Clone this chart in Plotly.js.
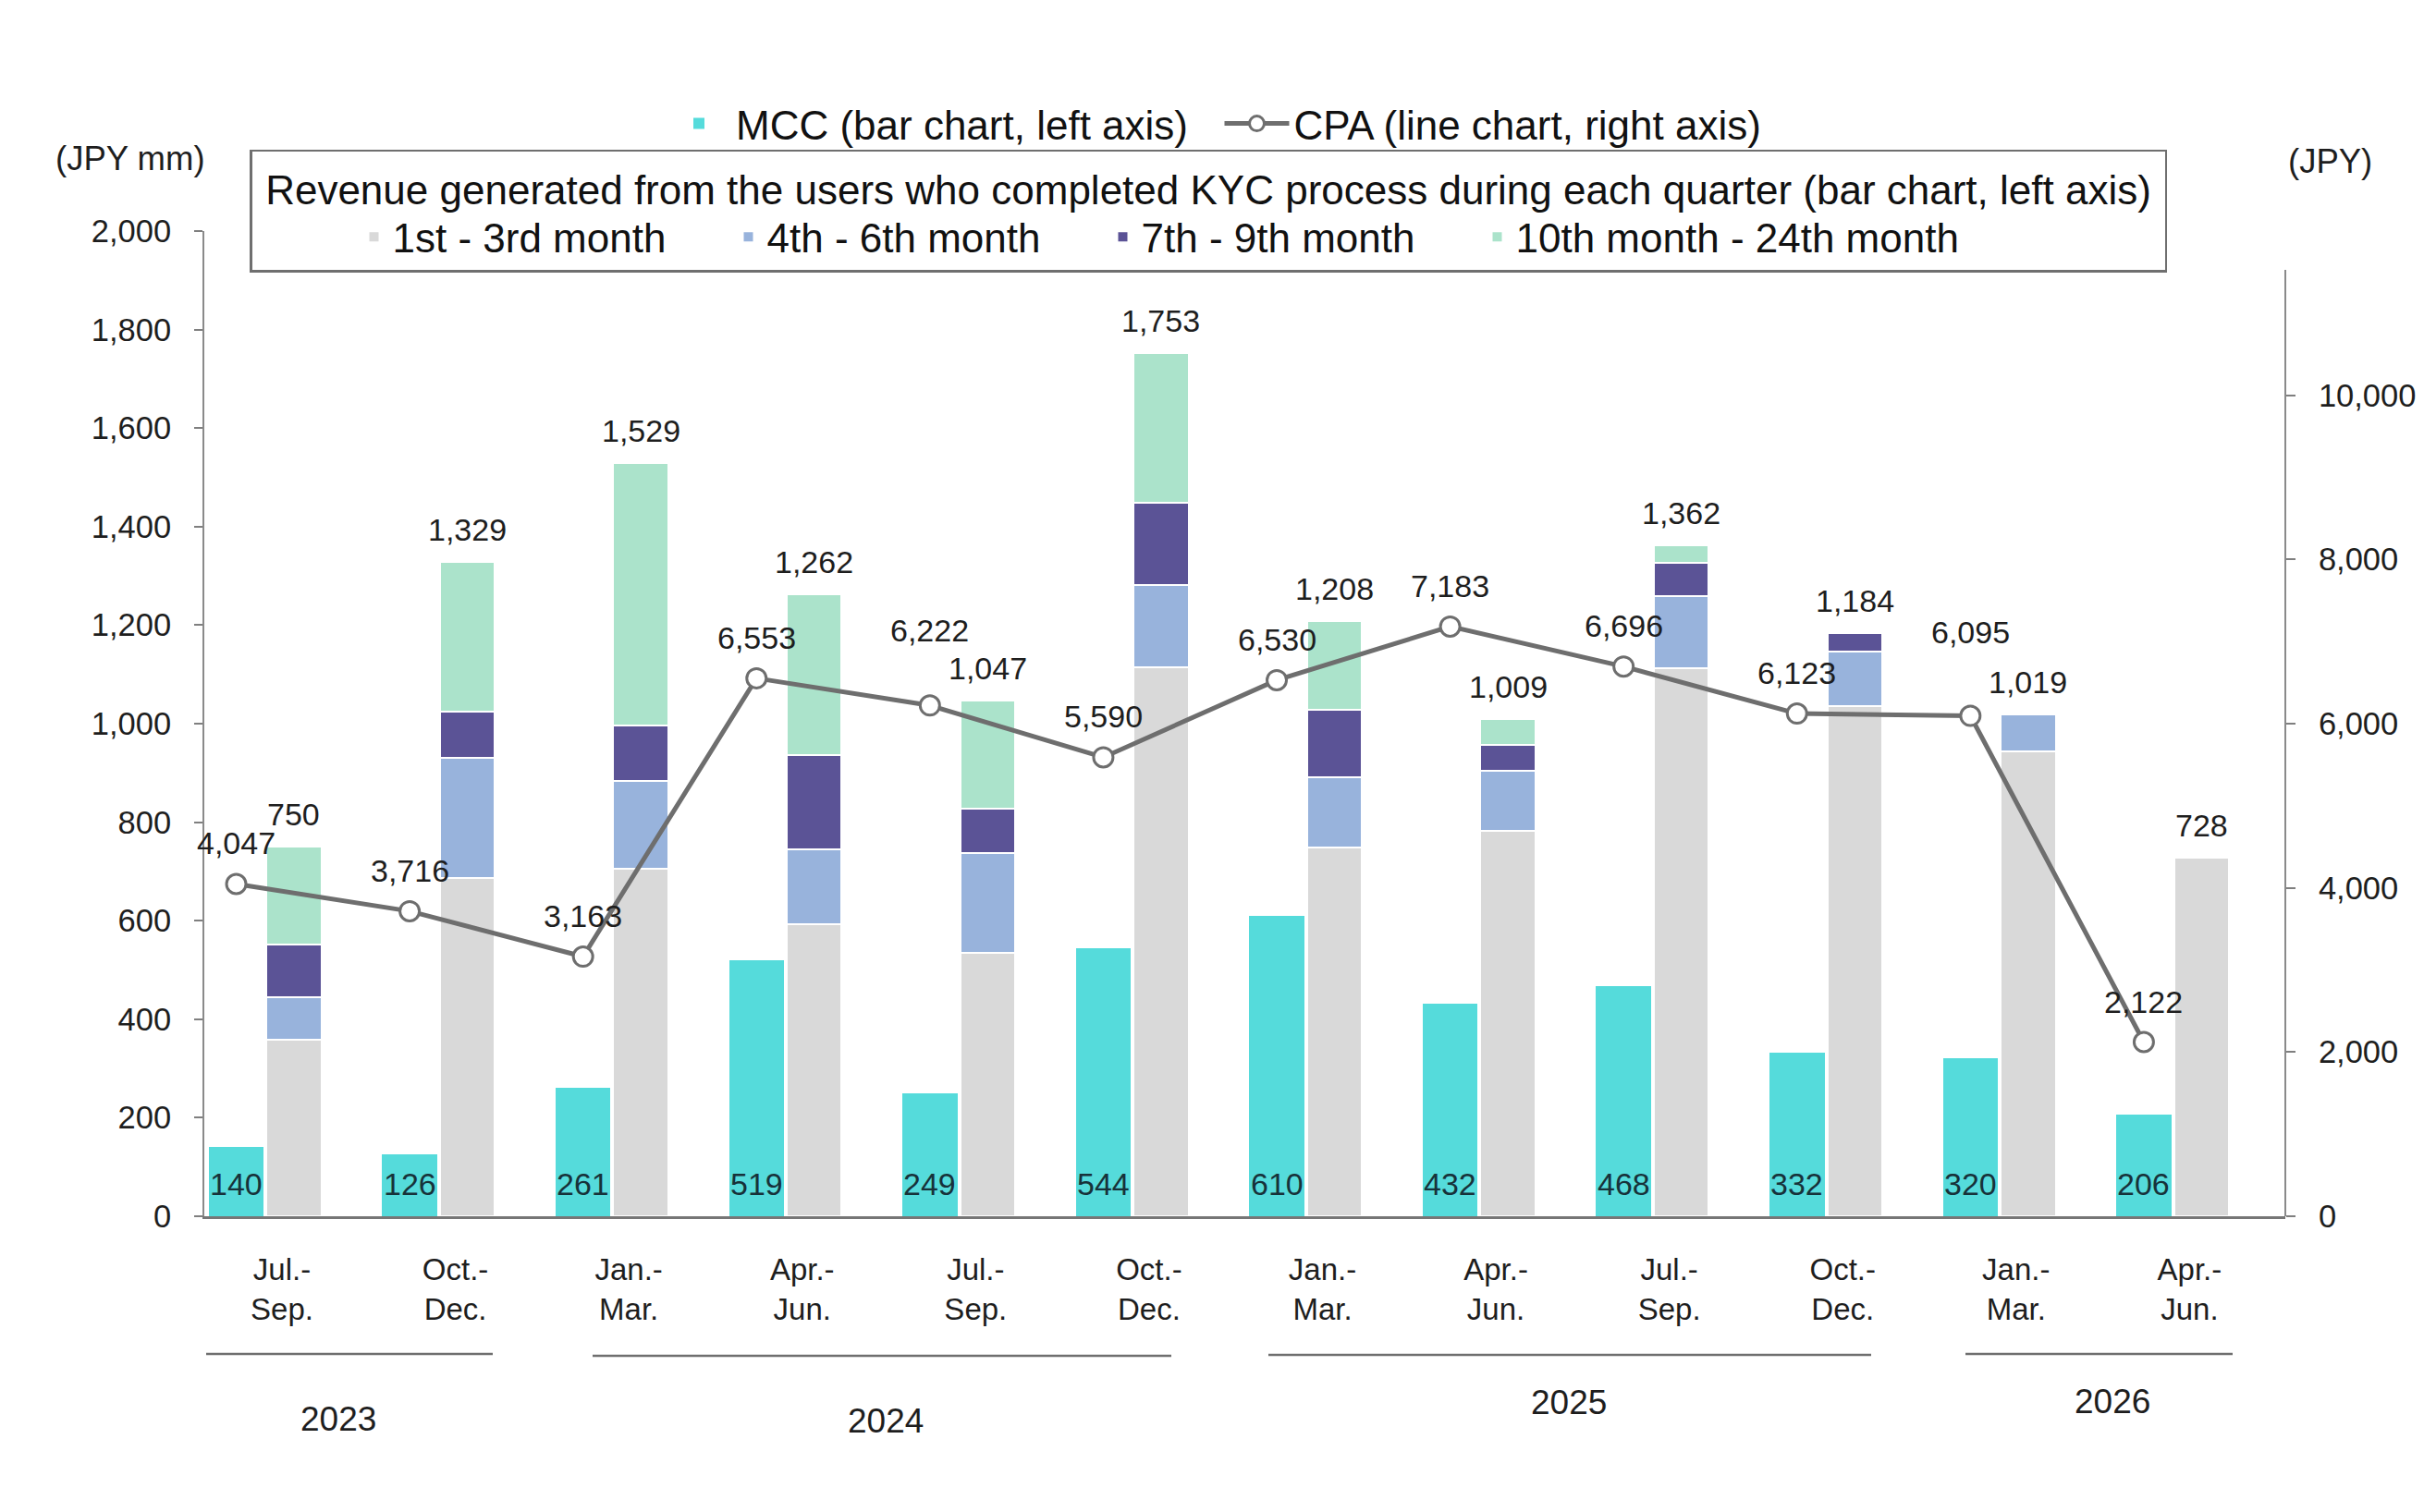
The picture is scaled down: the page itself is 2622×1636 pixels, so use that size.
<!DOCTYPE html>
<html><head><meta charset="utf-8">
<script src="https://cdn.plot.ly/plotly-3.0.1.min.js"></script>
<style>html,body{margin:0;padding:0;background:#fff}#chart{width:2622px;height:1636px}</style>
</head><body><div id="chart"></div>
<script>
// ---------------- data ----------------
const quarters = ['Jul.-Sep.','Oct.-Dec.','Jan.-Mar.','Apr.-Jun.','Jul.-Sep.','Oct.-Dec.','Jan.-Mar.','Apr.-Jun.','Jul.-Sep.','Oct.-Dec.','Jan.-Mar.','Apr.-Jun.'];
const years = ['2023','2023','2024','2024','2024','2024','2025','2025','2025','2025','2026','2026'];
const mcc = [140,126,261,519,249,544,610,432,468,332,320,206];
const month1to3 = [359,687,705,592,535,1115,749,783,1112,1036,943,728];
const month4to6 = [86,243,178,152,203,167,143,122,146,111,76,null];
const month7to9 = [106,95,114,193,90,166,137,51,69,37,null,null];
const month10to24 = [199,304,532,325,219,305,179,53,35,null,null,null];
const totals = [750,1329,1529,1262,1047,1753,1208,1009,1362,1184,1019,728];
const cpa = [4047,3716,3163,6553,6222,5590,6530,7183,6696,6123,6095,2122];
const yearGroups = ['2023','2024','2025','2026'];
const leftTicks = [0,200,400,600,800,1000,1200,1400,1600,1800,2000];
const rightTicks = [0,2000,4000,6000,8000,10000];
const seriesNames = ['1st - 3rd month','4th - 6th month','7th - 9th month','10th month - 24th month'];

// ---------------- layout helpers ----------------
const W = 2622, H = 1636;
const L = 221, R = 2472, T = 250, B = 1316;
const px = p => (p - L) / (R - L);
const py = p => (B - p) / (B - T);
const fmt = v => v.toLocaleString('en-US');
const FONT = 'Liberation Sans, Arial, Helvetica, sans-serif';
const TXT = '#1e1e1e';

const ids = quarters.map((q, i) => years[i] + ' ' + q);
const tickText = quarters.map(q => q.replace('-', '-<br>'));

const colors = {mcc:'#55DBDB', c1:'#D9D9D9', c2:'#98B3DC', c3:'#5B5396', c4:'#ABE3CB', cpa:'#6E6E6E'};
const BW = 0.317;

const traces = [
  {type:'bar', name:'MCC (bar chart, left axis)', x:ids, y:mcc, xaxis:'x2', yaxis:'y',
   width:BW, marker:{color:colors.mcc, line:{width:0}}, legend:'legend', hoverinfo:'skip'},
  {type:'scatter', mode:'lines+markers', name:'CPA (line chart, right axis)', x:ids, y:cpa, xaxis:'x2', yaxis:'y2',
   line:{color:colors.cpa, width:5}, marker:{symbol:'circle', size:21, color:'#ffffff', line:{color:colors.cpa, width:3}},
   legend:'legend', hoverinfo:'skip'}
];
[month1to3, month4to6, month7to9, month10to24].forEach((arr, k) => {
  traces.push({type:'bar', name:seriesNames[k], x:ids, y:arr, xaxis:'x', yaxis:'y', width:BW,
    marker:{color:[colors.c1,colors.c2,colors.c3,colors.c4][k], line:{color:'#ffffff', width:2}},
    legend:'legend2', hoverinfo:'skip'});
});

// label offsets (pixels above the point); two CPA labels sit higher in the original
const cpaLabelRaise = {4: 81, 10: 91};
const annotations = [];
ids.forEach((id, i) => {
  annotations.push({xref:'x', yref:'y', x:id, y:totals[i], yshift:35, text:fmt(totals[i]), showarrow:false,
    yanchor:'middle', font:{size:34, color:TXT, family:FONT}});
  annotations.push({xref:'x2', yref:'y2', x:id, y:cpa[i], yshift:(cpaLabelRaise[i] || 44), text:fmt(cpa[i]), showarrow:false,
    yanchor:'middle', font:{size:34, color:TXT, family:FONT}});
  annotations.push({xref:'x2', yref:'y', x:id, y:0, yshift:35, text:fmt(mcc[i]), showarrow:false,
    yanchor:'middle', font:{size:34, color:'#17323a', family:FONT}});
});
annotations.push({xref:'paper', yref:'paper', x:px(141), y:py(172), text:'(JPY mm)', showarrow:false,
  xanchor:'center', yanchor:'middle', font:{size:36.5, color:TXT, family:FONT}});
annotations.push({xref:'paper', yref:'paper', x:px(2520), y:py(174), text:'(JPY)', showarrow:false,
  xanchor:'center', yanchor:'middle', font:{size:36.5, color:TXT, family:FONT}});

// year group labels and underlines (positions in pixels)
const yearLabelPos = [[366,1535],[958,1538],[1697,1517],[2285,1516]];
const yearLinePos = [[223,533,1465],[641,1267,1467],[1372,2024,1466],[2126,2415,1465]];
const shapes = [];
yearGroups.forEach((yr, k) => {
  annotations.push({xref:'paper', yref:'paper', x:px(yearLabelPos[k][0]), y:py(yearLabelPos[k][1]), text:yr,
    showarrow:false, xanchor:'center', yanchor:'middle', font:{size:37, color:TXT, family:FONT}});
  shapes.push({type:'line', xref:'paper', yref:'paper', x0:px(yearLinePos[k][0]), x1:px(yearLinePos[k][1]),
    y0:py(yearLinePos[k][2]), y1:py(yearLinePos[k][2]), line:{color:'#6f6f6f', width:2.5}});
});
// right axis line (stops below the top of the plot area)
shapes.push({type:'line', xref:'paper', yref:'paper', x0:1, x1:1, y0:0, y1:py(292), line:{color:'#8a8a8a', width:2}});

const layout = {
  width:W, height:H,
  margin:{l:L, r:W-R, t:T, b:H-B, autoexpand:false},
  paper_bgcolor:'#ffffff', plot_bgcolor:'rgba(0,0,0,0)',
  font:{family:FONT, color:TXT},
  barmode:'stack',
  showlegend:true,
  xaxis:{type:'category', categoryorder:'array', categoryarray:ids, range:[-0.517, 11.483],
    tickmode:'array', tickvals:ids, ticktext:tickText, tickfont:{size:33, color:TXT, family:FONT},
    ticks:'', showline:true, linecolor:'#767676', linewidth:3, showgrid:false, zeroline:false,
    ticklabelstandoff:26, ticklabelshift:-13, fixedrange:true},
  xaxis2:{type:'category', categoryorder:'array', categoryarray:ids, overlaying:'x', range:[-0.184, 11.816],
    visible:false, showgrid:false, zeroline:false, fixedrange:true},
  yaxis:{range:[0,2000], tickmode:'array', tickvals:leftTicks, ticktext:leftTicks.map(fmt),
    ticks:'outside', ticklen:9, tickwidth:2, tickcolor:'#7f7f7f', showline:true, linecolor:'#8a8a8a', linewidth:2,
    showgrid:false, zeroline:false, tickfont:{size:34.5, color:TXT, family:FONT}, ticklabelstandoff:18, fixedrange:true},
  yaxis2:{overlaying:'y', side:'right', anchor:'x', range:[0,12000], tickmode:'array', tickvals:rightTicks,
    ticktext:rightTicks.map(fmt), ticks:'outside', ticklen:10, tickwidth:2, tickcolor:'#7f7f7f', showline:false,
    showgrid:false, zeroline:false, tickfont:{size:34.5, color:TXT, family:FONT}, ticklabelstandoff:18, fixedrange:true},
  legend:{orientation:'h', x:px(716), xanchor:'left', y:py(134), yanchor:'middle', xref:'paper', yref:'paper',
    font:{size:44, color:'#111', family:FONT}, bgcolor:'rgba(0,0,0,0)', entrywidth:518.5, entrywidthmode:'pixels',
    itemwidth:70, traceorder:'normal'},
  legend2:{orientation:'h', x:px(270), xanchor:'left', y:py(161.5), yanchor:'top', xref:'paper', yref:'paper',
    font:{size:44, color:'#111', family:FONT}, bgcolor:'rgba(255,255,255,0)', bordercolor:'#6f6f6f', borderwidth:2.5,
    entrywidth:248, entrywidthmode:'pixels', indentation:112, traceorder:'normal',
    title:{text:'\u00a0Revenue generated from the users who completed KYC process during each quarter (bar chart, left axis)\u00a0',
      side:'top center', font:{size:44, color:'#111', family:FONT}}},
  annotations:annotations,
  shapes:shapes
};

Plotly.newPlot('chart', traces, layout, {staticPlot:true, displayModeBar:false});
</script>
</body></html>
